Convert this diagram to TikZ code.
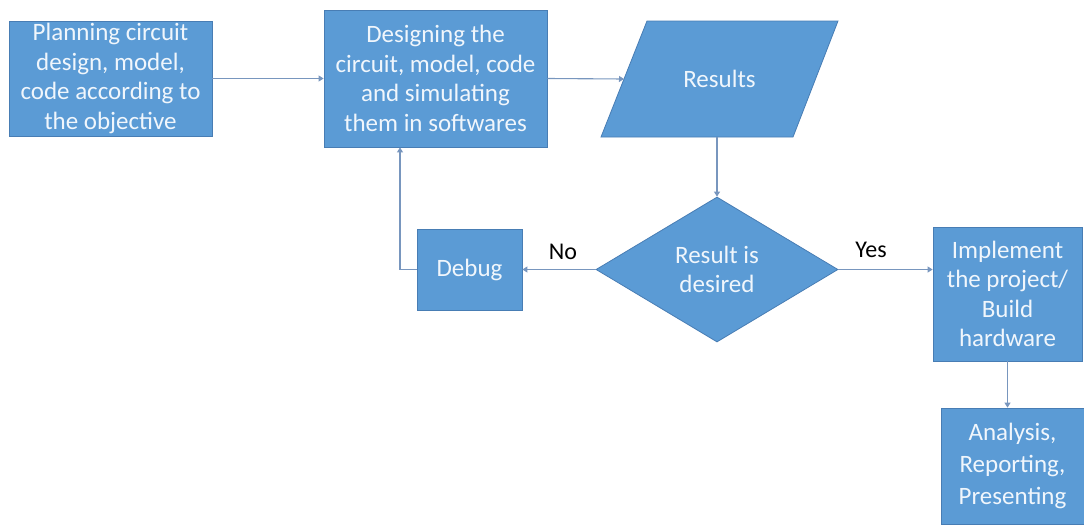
\documentclass[tikz,border=0pt]{standalone}
\usepackage{fontspec}
\setmainfont{Carlito}
\usetikzlibrary{arrows.meta,shapes.geometric,calc}
\definecolor{boxblue}{RGB}{91,155,213}
\definecolor{boxedge}{RGB}{72,125,180}
\definecolor{linecol}{RGB}{120,150,190}
\definecolor{txt}{RGB}{240,246,252}
\begin{document}
\begin{tikzpicture}[x=1pt,y=-1pt,
  blk/.style={draw=boxedge, line width=0.8pt, fill=boxblue, text=txt,
    font=\fontsize{25}{29.5}\selectfont, align=center, inner sep=0pt},
  conn/.style={draw=linecol, line width=1.1pt, -{Triangle[width=6pt,length=5pt]}},
  lbl/.style={font=\fontsize{24}{28}\selectfont, text=black}]
\useasboundingbox (0,0) rectangle (1084,525);
\node[blk, minimum width=203pt, minimum height=115pt] (plan) at (110.5,78.5)
  {Planning circuit\\design, model,\\code according to\\the objective};
\node[blk, minimum width=223pt, minimum height=137pt] (design) at (435.5,78.5)
  {Designing the\\circuit, model, code\\and simulating\\them in softwares};
% parallelogram
\coordinate (rtl) at (647,21);
\coordinate (rtr) at (838,21);
\coordinate (rbr) at (793,137);
\coordinate (rbl) at (601,137);
\filldraw[fill=boxblue, draw=boxedge, line width=0.8pt] (rtl)--(rtr)--(rbr)--(rbl)--cycle;
\node[text=txt, font=\fontsize{25}{29.5}\selectfont] (res) at (719.5,79) {Results};
\coordinate (resin) at ($(rbl)!0.5!(rtl)$);
\coordinate (resbot) at (717,137);
\node[blk, diamond, aspect=1.67, minimum width=242pt, minimum height=145pt] (dec) at (717,269.5)
  {Result is\\desired};
\node[blk, minimum width=105pt, minimum height=81pt] (debug) at (469.5,269.5) {Debug};
\node[blk, minimum width=149pt, minimum height=134pt] (impl) at (1007.5,294)
  {Implement\\the project/\\Build\\hardware};
\node[blk, minimum width=143pt, minimum height=116pt, font=\fontsize{25}{32}\selectfont] (ana) at (1012.5,466)
  {Analysis,\\Reporting,\\Presenting};
% connectors
\draw[conn] (plan.east) -- (design.west);
\draw[conn] (design.east) -- (resin);
\draw[conn] (resbot) -- (dec.north);
\draw[conn] (dec.west) -- (debug.east);
\coordinate (bend) at (400,269.5);
\draw[conn] (debug.west) -- (bend) -- (bend |- design.south);
\draw[conn] (dec.east) -- (dec.east -| impl.west);
\draw[conn] (impl.south) -- (impl.south |- ana.north);
% labels
\node[lbl] (no) at (563,252) {No};
\node[lbl] (yes) at (871,250) {Yes};
\end{tikzpicture}
\end{document}
